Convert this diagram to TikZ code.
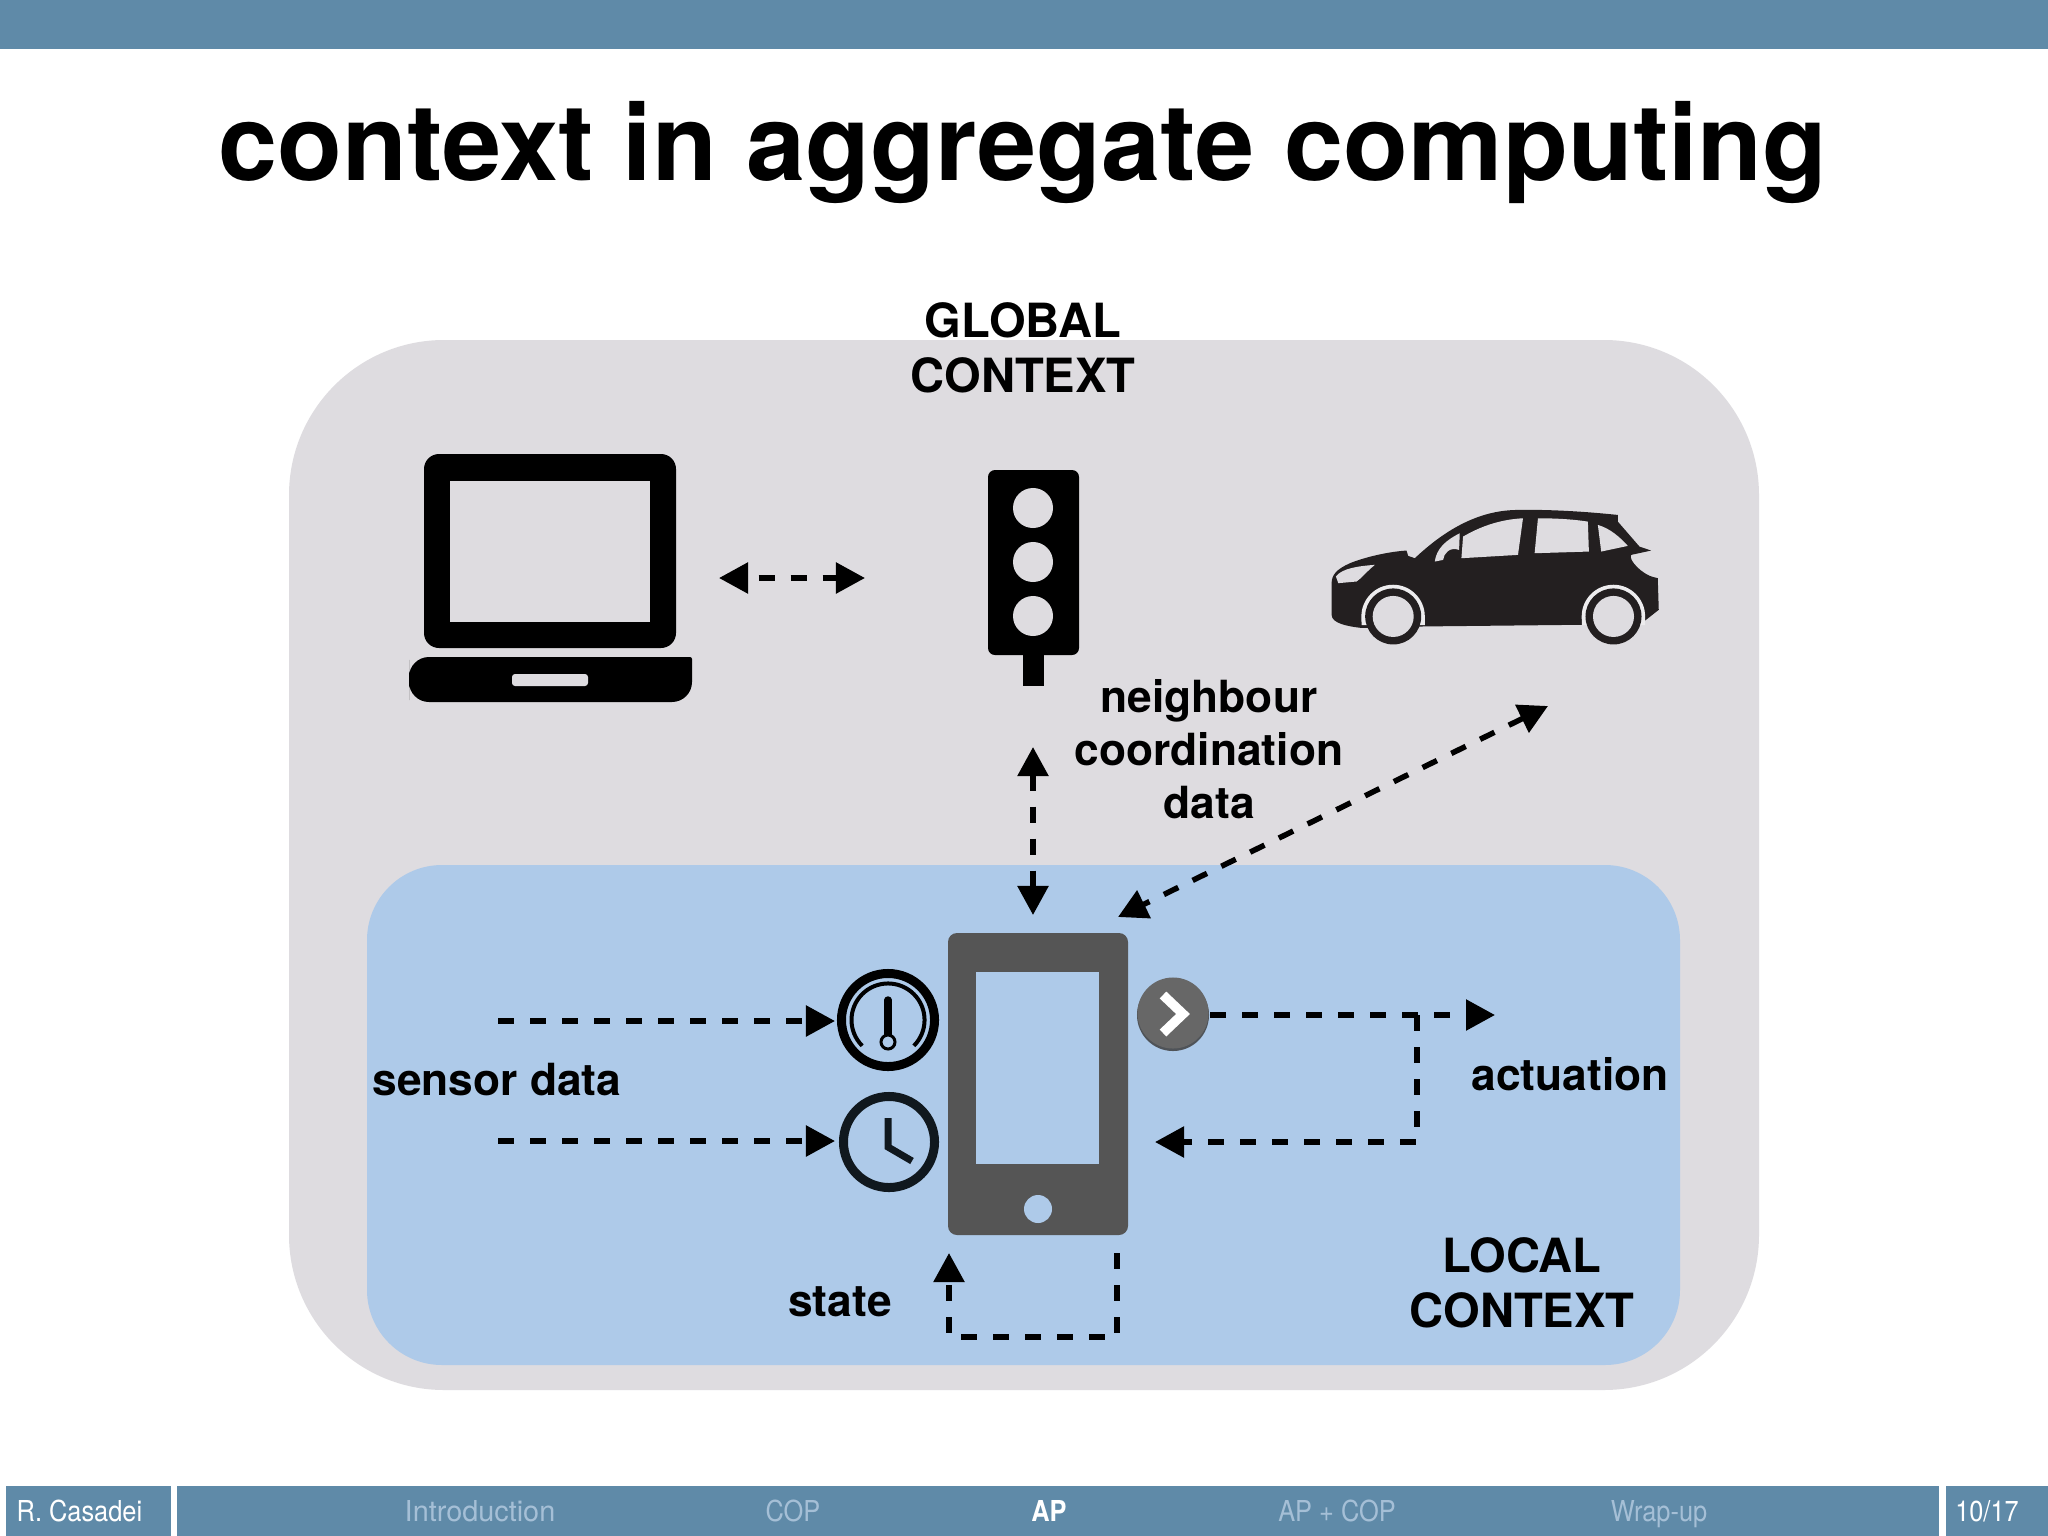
\documentclass[tikz,border=0pt]{standalone}
\usepackage{fontspec}
\setmainfont{TeX Gyre Heros}
\usetikzlibrary{arrows.meta}
\definecolor{barblue}{HTML}{5F8AA8}
\definecolor{outerbg}{HTML}{DEDCE0}
\definecolor{innerbg}{HTML}{AECAE9}
\definecolor{phonegrey}{HTML}{555555}
\definecolor{btngrey}{HTML}{676767}
\definecolor{btnshade}{HTML}{4F5358}
\definecolor{carblack}{HTML}{231F20}
\definecolor{clockblack}{HTML}{10181E}
\definecolor{navdim}{HTML}{A5BFD6}
\tikzset{
  bar/.style={fill=barblue,draw=none},
  titletext/.style={font=\fontsize{30.2}{36}\selectfont\bfseries,anchor=base,inner sep=0pt},
  lbl/.style={font=\fontsize{12.6}{15}\selectfont\bfseries,align=center,inner sep=0pt},
  ctxlbl/.style={font=\fontsize{13.4}{15.6}\selectfont\bfseries,align=center,inner sep=0pt},
  navtext/.style={font=\fontsize{8.2}{10}\selectfont\addfontfeature{FakeStretch=0.88},anchor=base,inner sep=0pt,text=navdim},
  conn/.style={line width=0.055cm,dash pattern=on 0.16cm off 0.16cm,
    -{Triangle[length=0.29cm,width=0.30cm,sep=0pt]}},
  connboth/.style={conn,{Triangle[length=0.29cm,width=0.30cm,sep=0pt]}-{Triangle[length=0.29cm,width=0.30cm,sep=0pt]}},
}
\begin{document}
\begin{tikzpicture}[x=0.01cm,y=-0.01cm]
\useasboundingbox (0,0) rectangle (2048,1536);
\fill[white] (0,0) rectangle (2048,1536);
% top and bottom bars
\fill[bar] (0,0) rectangle (2048,49);
\fill[bar] (6,1486) rectangle (171,1536);
\fill[bar] (177,1486) rectangle (1939,1536);
\fill[bar] (1946,1486) rectangle (2048,1536);
\node[titletext] (title) at (1023,180) {context in aggregate computing};
% context boxes
\fill[outerbg,rounded corners=1.55cm] (289,340) rectangle (1759,1390);
\fill[innerbg,rounded corners=0.75cm] (367,865) rectangle (1680,1365);
\node[ctxlbl] (global) at (1023,348) {GLOBAL\\CONTEXT};
\node[ctxlbl] (local) at (1522,1283) {LOCAL\\CONTEXT};
% laptop
\fill[black,rounded corners=0.15cm] (424,454) rectangle (676,648);
\fill[outerbg] (450,481) rectangle (650,622);
\fill[black,rounded corners=0.02cm] (409,657) -- (692,657) -- (692,680) [rounded corners=0.2cm] -- (692,702) -- (409,702) -- (409,680) -- cycle;
\fill[outerbg,rounded corners=0.03cm] (512,674) rectangle (588,686);
% traffic light
\fill[black] (1023,650) rectangle (1044,686);
\fill[black,rounded corners=0.07cm] (988,470) rectangle (1079,655);
\foreach \yy in {508,562,616} \fill[outerbg] (1033,\yy) circle[radius=0.20cm];
% car
\begin{scope}[shift={(1300,480)},x=0.003333cm,y=-0.003333cm]
\fill[carblack] (95,310) .. controls (95,285) and (110,268) .. (150,250)
  .. controls (200,230) and (270,215) .. (320,212) -- (325,228) -- (345,235)
  .. controls (430,155) and (530,92) .. (650,90)
  .. controls (750,88) and (860,95) .. (955,105) -- (955,125) -- (1020,200)
  -- (1055,212) -- (995,225) .. controls (985,240) and (1030,285) .. (1063,292)
  -- (1075,295) -- (1078,390) -- (1040,420) -- (1010,440) -- (850,435) -- (375,440) -- (190,445)
  .. controls (140,440) and (95,430) .. (95,405) -- cycle;
\foreach \cx in {280,942} {
  \fill[outerbg] (\cx-95,445) rectangle (\cx+95,470);
  \fill[outerbg!55!white] (\cx+95,436) -- (\cx+95,410) arc[start angle=0,end angle=180,radius=0.317cm] -- (\cx-95,436) -- cycle;
  \fill[carblack] (\cx,410) circle[radius=0.28cm];
  \fill[outerbg] (\cx,410) circle[radius=0.205cm];
}
\fill[outerbg] (490,170) .. controls (550,135) and (610,118) .. (670,115) -- (655,225) -- (485,235) -- cycle;
\fill[outerbg] (715,115) .. controls (770,115) and (820,118) .. (865,125) -- (868,215) -- (705,220) -- cycle;
\fill[outerbg] (895,135) .. controls (930,145) and (960,170) .. (985,198) -- (905,215) -- cycle;
\fill[outerbg] (405,245) .. controls (410,205) and (440,180) .. (480,160) -- (478,210) .. controls (450,200) and (432,220) .. (430,240) -- cycle;
\fill[outerbg] (108,290) .. controls (125,265) and (180,258) .. (225,255) .. controls (200,275) and (185,295) .. (170,305) -- (115,310) -- cycle;
\end{scope}
% phone
\fill[phonegrey,rounded corners=0.09cm] (948,933) rectangle (1128,1235);
\fill[innerbg] (976,972) rectangle (1099,1164);
\fill[innerbg] (1038,1209) circle[radius=0.14cm];
% gauge
\draw[black,line width=0.09cm] (888,1020) circle[radius=0.465cm];
\draw[black,line width=0.04cm] (862.2,1045.8) arc[start angle=225,end angle=-45,radius=0.365cm];
\draw[black,line width=0.075cm,line cap=round] (888,1000) -- (888,1035);
\draw[black,line width=0.03cm,fill=innerbg] (888,1042) circle[radius=0.07cm];
% clock
\draw[clockblack,line width=0.09cm] (889,1142) circle[radius=0.455cm];
\draw[clockblack,line width=0.07cm] (888,1118) -- (888,1147) -- (912,1161);
% actuator button
\fill[btnshade] (1173,1015) circle[radius=0.36cm];
\fill[btngrey] (1173,1013) circle[radius=0.355cm];
\draw[white,line width=0.095cm] (1163,995) -- (1183,1014) -- (1163,1033);
% labels
\node[lbl] (neigh) at (1209,749) {neighbour\\coordination\\data};
\node[lbl,anchor=base] (sensor) at (497,1095) {sensor data};
\node[lbl,anchor=base] (actu) at (1570,1090) {actuation};
\node[lbl,anchor=base] (statel) at (840,1316) {state};
% connector ends
\coordinate (lapE) at (719,578);
\coordinate (lightW) at (865,578);
\coordinate (lightS) at (1033,747);
\coordinate (phoneN) at (1033,915);
\coordinate (carS) at (1548,706);
\coordinate (phoneNE) at (1118,917);
\coordinate (sensA) at (498,1021);
\coordinate (gaugeW) at (835,1021);
\coordinate (sensB) at (498,1141);
\coordinate (clockW) at (835,1141);
\coordinate (btnE) at (1210,1015);
\coordinate (actEnd) at (1495,1015);
\coordinate (fbTop) at (1417,1015);
\coordinate (phoneE) at (1155,1142);
\coordinate (stStart) at (1117,1253);
\coordinate (stEnd) at (949,1253);
% connectors
\draw[connboth,dash phase=0.2cm] (lapE) -- (lightW);
\draw[connboth] (lightS) -- (phoneN);
\draw[connboth] (carS) -- (phoneNE);
\draw[conn] (sensA) -- (gaugeW);
\draw[conn] (sensB) -- (clockW);
\draw[conn] (btnE) -- (actEnd);
\draw[conn] (fbTop) |- (phoneE);
\draw[conn] (stStart) -- ++(0,84) -| (stEnd);
% footer text
\node[navtext,anchor=base west,text=white] (author) at (16,1521) {R. Casadei};
\node[navtext,font=\fontsize{8.2}{10}\selectfont] (nav1) at (480,1521) {Introduction};
\node[navtext] (nav2) at (793,1521) {COP};
\node[navtext,text=white,font=\fontsize{8.2}{10}\selectfont\bfseries\addfontfeature{FakeStretch=0.88}] (nav3) at (1049,1521) {AP};
\node[navtext] (nav4) at (1337,1521) {AP + COP};
\node[navtext] (nav5) at (1659,1521) {Wrap-up};
\node[navtext,text=white] (page) at (1987,1521) {10/17};
\end{tikzpicture}
\end{document}
